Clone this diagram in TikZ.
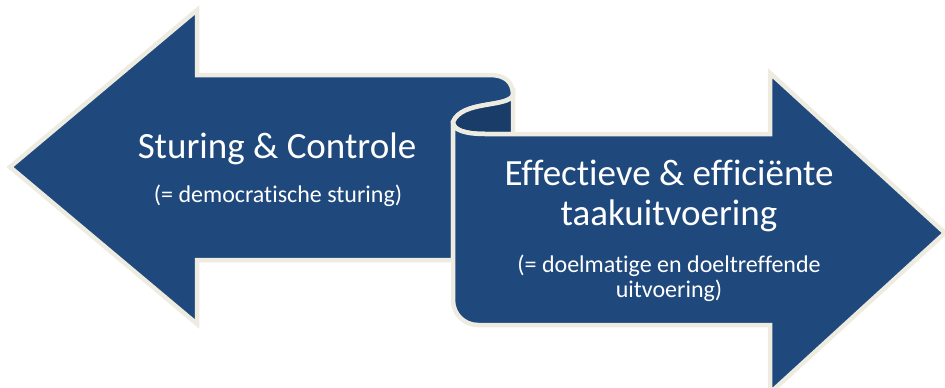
\documentclass[tikz,border=0pt]{standalone}
\usepackage{fontspec}
\setmainfont[Ligatures={NoCommon}]{Carlito}
\definecolor{pijlblauw}{RGB}{31,73,125}
\definecolor{rolblauw}{RGB}{26,60,104}
\definecolor{rand}{RGB}{238,236,225}

\begin{document}
\begin{tikzpicture}[x=1pt, y=-1pt,
    pijl/.style={fill=pijlblauw, draw=rand, line width=4.5pt},
    rol/.style={fill=rolblauw, draw=rand, line width=4.5pt},
    titel/.style={text=white, font=\fontsize{37}{40}\selectfont, anchor=base, inner sep=0pt},
    uitleg/.style={text=white, font=\fontsize{24}{25}\selectfont, anchor=base, inner sep=0pt}]
    \useasboundingbox (0,0) rectangle (945,388);

    % linker pijl
    \draw[pijl] (10,167) -- (197,10) -- (197,75) -- (490,75)
        .. controls (505,75) and (513,82) .. (513,95)
        .. controls (508,108) and (462,100) .. (453,122)
        -- (453,260) -- (197,260) -- (197,324) -- cycle;
    % omgekrulde rol
    \draw[rol] (513,95) .. controls (508,108) and (462,100) .. (453,122)
        .. controls (453,130) and (465,134) .. (485,134) -- (513,134) -- cycle;
    % rechter pijl
    \draw[pijl] (453,122) -- (453,300) .. controls (453,314) and (464,325) .. (478,325)
        -- (770,325) -- (770,393) -- (945,233) -- (770,73) -- (770,134)
        -- (485,134) .. controls (465,134) and (453,130) .. (453,122) -- cycle;

    \node[titel]  (sturing)      at (277,158) {Sturing \& Controle};
    \node[uitleg] (democratisch) at (278,202) {(= democratische sturing)};
    \node[titel]  (effectief)    at (669,185) {Effectieve \& efficiënte};
    \node[titel]  (taak)         at (669,225) {taakuitvoering};
    \node[uitleg] (doelmatig)    at (669,272) {(= doelmatige en doeltreffende};
    \node[uitleg] (uitvoering)   at (669,297) {uitvoering)};
\end{tikzpicture}
\end{document}
